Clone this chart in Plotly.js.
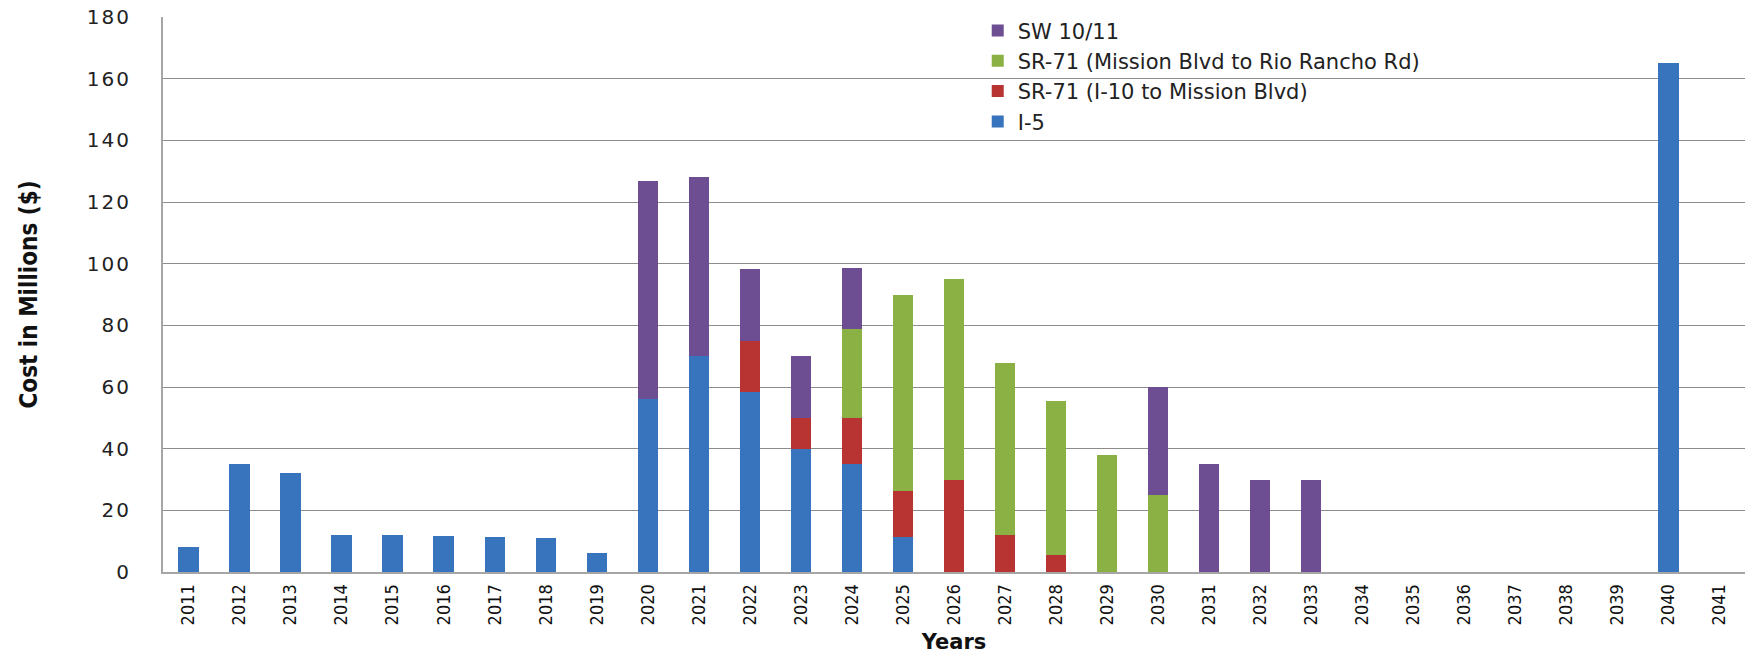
<!DOCTYPE html>
<html>
<head>
<meta charset="utf-8">
<script src="https://cdn.plot.ly/plotly-3.0.1.min.js"></script>
<style>
html,body{margin:0;padding:0;background:#fff;}
#chart{width:1749px;height:658px;}
#chart .ytick text{letter-spacing:2px;}
</style>
</head>
<body>
<div id="chart"></div>
<script>
const years = ["2011","2012","2013","2014","2015","2016","2017","2018","2019","2020",
               "2021","2022","2023","2024","2025","2026","2027","2028","2029","2030",
               "2031","2032","2033","2034","2035","2036","2037","2038","2039","2040","2041"];
const i5 =        [8, 35, 32, 12, 12, 11.6, 11.3, 11, 6.2, 56,
                   70, 58.4, 40, 35, 11.4, 0, 0, 0, 0, 0,
                   0, 0, 0, 0, 0, 0, 0, 0, 0, 165, 0];
const sr71South = [0, 0, 0, 0, 0, 0, 0, 0, 0, 0,
                   0, 16.6, 10, 15, 14.9, 30, 12, 5.5, 0, 0,
                   0, 0, 0, 0, 0, 0, 0, 0, 0, 0, 0];
const sr71North = [0, 0, 0, 0, 0, 0, 0, 0, 0, 0,
                   0, 0, 0, 28.7, 63.4, 65, 55.9, 49.8, 38, 25,
                   0, 0, 0, 0, 0, 0, 0, 0, 0, 0, 0];
const sw1011 =    [0, 0, 0, 0, 0, 0, 0, 0, 0, 70.8,
                   58, 23.2, 20, 20, 0, 0, 0, 0, 0, 35,
                   35, 30, 30, 0, 0, 0, 0, 0, 0, 0, 0];
const seriesNames = ["I-5", "SR-71 (I-10 to Mission Blvd)", "SR-71 (Mission Blvd to Rio Rancho Rd)", "SW 10/11"];
const seriesColors = ["#3874bd", "#b83432", "#8bb044", "#6d4e93"];
const seriesData = [i5, sr71South, sr71North, sw1011];

const traces = seriesData.map((vals, k) => ({
  type: "bar",
  name: seriesNames[k],
  x: years,
  y: vals,
  marker: {color: seriesColors[k], line: {width: 0}},
  hoverinfo: "x+y+name"
}));

const layout = {
  width: 1749,
  height: 658,
  barmode: "stack",
  bargap: 0.6,
  paper_bgcolor: "#ffffff",
  plot_bgcolor: "#ffffff",
  margin: {l: 163, r: 4, t: 17, b: 86, autoexpand: false},
  showlegend: true,
  legend: {
    traceorder: "reversed",
    x: 0.515, xanchor: "left",
    y: 1.012, yanchor: "top",
    bgcolor: "rgba(0,0,0,0)",
    font: {family: "DejaVu Sans", size: 21, color: "#222222"},
    tracegroupgap: 0
  },
  xaxis: {
    type: "category",
    tickangle: -90,
    tickfont: {family: "Liberation Sans Narrow, DejaVu Sans Condensed, sans-serif", size: 18, color: "#111111"},
    showline: true, linecolor: "#a6a6a6", linewidth: 2,
    showgrid: false, ticks: "", ticklabelstandoff: 3,
    automargin: false,
    title: {text: "Years", font: {family: "DejaVu Sans", size: 21, color: "#111111", weight: "bold"}, standoff: 10}
  },
  yaxis: {
    range: [0, 180],
    dtick: 20,
    tickfont: {family: "DejaVu Sans", size: 20, color: "#222222"},
    showline: true, linecolor: "#a6a6a6", linewidth: 2,
    showgrid: true, gridcolor: "#8c8c8c", gridwidth: 1,
    zeroline: false, ticks: "", ticklabelstandoff: 26,
    automargin: false,
    title: {text: "Cost in Millions ($)", font: {family: "Liberation Sans Narrow, DejaVu Sans Condensed, sans-serif", size: 24, color: "#111111", weight: "bold"}, standoff: 48}
  }
};

Plotly.newPlot("chart", traces, layout, {displayModeBar: false, staticPlot: true});
</script>
</body>
</html>
